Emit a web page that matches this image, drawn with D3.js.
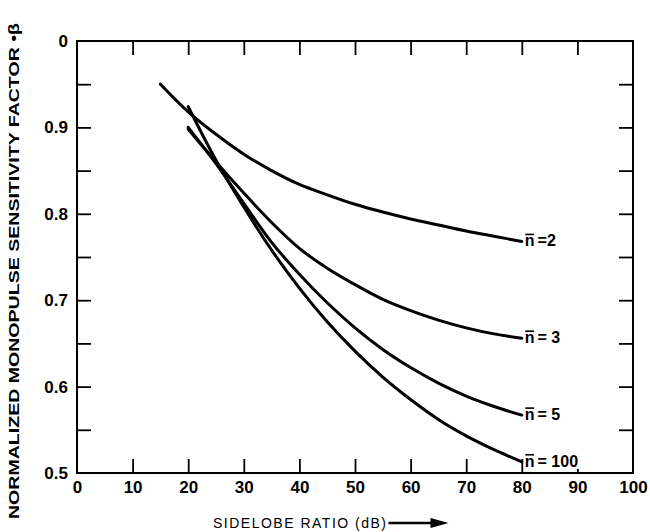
<!DOCTYPE html>
<html>
<head>
<meta charset="utf-8">
<script src="https://cdn.jsdelivr.net/npm/d3@7"></script>
<style>
  html, body { margin: 0; padding: 0; background: #fff; }
  svg { display: block; }
  text { font-family: "Liberation Sans", Arial, Helvetica, sans-serif; fill: #000; }
</style>
</head>
<body>
<svg id="chart" width="650" height="532"></svg>
<script>
// ---- data ----
const xTickValues = [0, 10, 20, 30, 40, 50, 60, 70, 80, 90, 100];
const xTickLabels = ["0", "10", "20", "30", "40", "50", "60", "70", "80", "90", "100"];
const yTickValues = [0.5, 0.6, 0.7, 0.8, 0.9, 1.0];
const yTickLabels = ["0.5", "0.6", "0.7", "0.8", "0.9", "0"];
const yMinorTicks = [0.55, 0.6, 0.65, 0.7, 0.75, 0.8, 0.85, 0.9, 0.95];
const xMinorTicks = [10, 20, 30, 40, 50, 60, 70, 80, 90];

const seriesSymbol = "n";
const seriesValues = ["=2", "= 3", "= 5", "= 100"];
const sidelobeN2 = [15, 20, 25, 30, 35, 40, 45, 50, 55, 60, 65, 70, 75, 80];
const betaN2     = [0.950, 0.918, 0.892, 0.869, 0.850, 0.834, 0.822, 0.811, 0.802, 0.794, 0.787, 0.780, 0.774, 0.768];
const sidelobeN3 = [20, 25, 30, 35, 40, 45, 50, 55, 60, 65, 70, 75, 80];
const betaN3     = [0.898, 0.860, 0.824, 0.790, 0.760, 0.737, 0.718, 0.701, 0.688, 0.677, 0.668, 0.661, 0.656];
const sidelobeN5 = [20, 25, 30, 35, 40, 45, 50, 55, 60, 65, 70, 75, 80];
const betaN5     = [0.900, 0.858, 0.812, 0.767, 0.730, 0.697, 0.668, 0.643, 0.622, 0.604, 0.589, 0.577, 0.567];
const sidelobeN100 = [20, 25, 30, 35, 40, 45, 50, 55, 60, 65, 70, 75, 80];
const betaN100     = [0.924, 0.862, 0.808, 0.758, 0.714, 0.675, 0.641, 0.611, 0.585, 0.562, 0.543, 0.527, 0.513];

const xTitle = "SIDELOBE RATIO (dB)";
const yTitle = "NORMALIZED MONOPULSE SENSITIVITY FACTOR \u2022\u03B2";

// ---- drawing ----
const svg = d3.select("#chart");
const pL = 77, pR = 633, pT = 41, pB = 473;
const x = d3.scaleLinear().domain([0, 100]).range([pL, pR]);
const y = d3.scaleLinear().domain([0.5, 1.0]).range([pB, pT]);

const series = [
  { val: seriesValues[0], xs: sidelobeN2, ys: betaN2 },
  { val: seriesValues[1], xs: sidelobeN3, ys: betaN3 },
  { val: seriesValues[2], xs: sidelobeN5, ys: betaN5 },
  { val: seriesValues[3], xs: sidelobeN100, ys: betaN100 }
];

// frame
svg.append("rect")
  .attr("x", pL).attr("y", pT)
  .attr("width", pR - pL).attr("height", pB - pT)
  .attr("fill", "none").attr("stroke", "#000").attr("stroke-width", 2);

const tickLen = 14;
function styleTicks(g) {
  g.select(".domain").remove();
  g.selectAll(".tick line").attr("stroke", "#000").attr("stroke-width", 1.8);
  g.selectAll(".tick text").remove();
}
// inner ticks
svg.append("g").attr("transform", `translate(0,${pB})`)
  .call(d3.axisBottom(x).tickValues(xMinorTicks).tickSize(-tickLen)).call(styleTicks)
  .selectAll(".tick line").attr("y2", d => d === 90 ? -4 : -tickLen);
svg.append("g").attr("transform", `translate(0,${pT})`)
  .call(d3.axisTop(x).tickValues(xMinorTicks).tickSize(-tickLen)).call(styleTicks);
svg.append("g").attr("transform", `translate(${pL},0)`)
  .call(d3.axisLeft(y).tickValues(yMinorTicks).tickSize(-tickLen)).call(styleTicks);
svg.append("g").attr("transform", `translate(${pR},0)`)
  .call(d3.axisRight(y).tickValues(yMinorTicks).tickSize(-tickLen)).call(styleTicks);

// tick labels
const xLab = svg.append("g").attr("transform", `translate(0,${pB})`)
  .call(d3.axisBottom(x).tickValues(xTickValues).tickSize(0).tickPadding(8)
    .tickFormat((d, i) => xTickLabels[i]));
xLab.select(".domain").remove();
xLab.selectAll("text").attr("font-size", 17).attr("font-weight", "bold")
  .attr("font-family", "'Liberation Sans', Arial, sans-serif");

const yLab = svg.append("g").attr("transform", `translate(${pL},0)`)
  .call(d3.axisLeft(y).tickValues(yTickValues).tickSize(0).tickPadding(9)
    .tickFormat((d, i) => yTickLabels[i]));
yLab.select(".domain").remove();
yLab.selectAll("text").attr("font-size", 17).attr("font-weight", "bold")
  .attr("font-family", "'Liberation Sans', Arial, sans-serif");

// curves
const line = d3.line().x(d => x(d[0])).y(d => y(d[1])).curve(d3.curveMonotoneX);
series.forEach(s => {
  const pts = s.xs.map((v, i) => [v, s.ys[i]]);
  svg.append("path").datum(pts)
    .attr("d", line)
    .attr("fill", "none").attr("stroke", "#000").attr("stroke-width", 3)
    .attr("stroke-linecap", "round");
  const last = pts[pts.length - 1];
  const lx = x(last[0]) + 3, ly = y(last[1]) + 5;
  const t = svg.append("text")
    .attr("x", lx).attr("y", ly)
    .attr("font-size", 16).attr("font-weight", "bold");
  const nSpan = t.append("tspan").text(seriesSymbol);
  t.append("tspan").attr("dx", 3).text(s.val);
  const nw = nSpan.node().getComputedTextLength();
  svg.append("line")
    .attr("x1", lx + 0.5).attr("x2", lx + nw - 0.5)
    .attr("y1", ly - 12).attr("y2", ly - 12)
    .attr("stroke", "#000").attr("stroke-width", 1.6);
});

// axis titles
const xt = svg.append("text")
  .attr("x", 213).attr("y", 528)
  .attr("font-size", 14).attr("letter-spacing", 1.5)
  .text(xTitle);
const xtEnd = 213 + xt.node().getComputedTextLength() + 1;
svg.append("line").attr("x1", xtEnd).attr("x2", xtEnd + 44)
  .attr("y1", 523).attr("y2", 523).attr("stroke", "#000").attr("stroke-width", 2.5);
svg.append("path")
  .attr("d", `M${xtEnd + 60},523 L${xtEnd + 42},518 L${xtEnd + 42},528 Z`)
  .attr("fill", "#000");

svg.append("text")
  .attr("transform", "translate(19,271) rotate(-90)")
  .attr("text-anchor", "middle")
  .attr("font-size", 15).attr("font-weight", "bold")
  .attr("textLength", 496).attr("lengthAdjust", "spacingAndGlyphs")
  .text(yTitle);
</script>
</body>
</html>
